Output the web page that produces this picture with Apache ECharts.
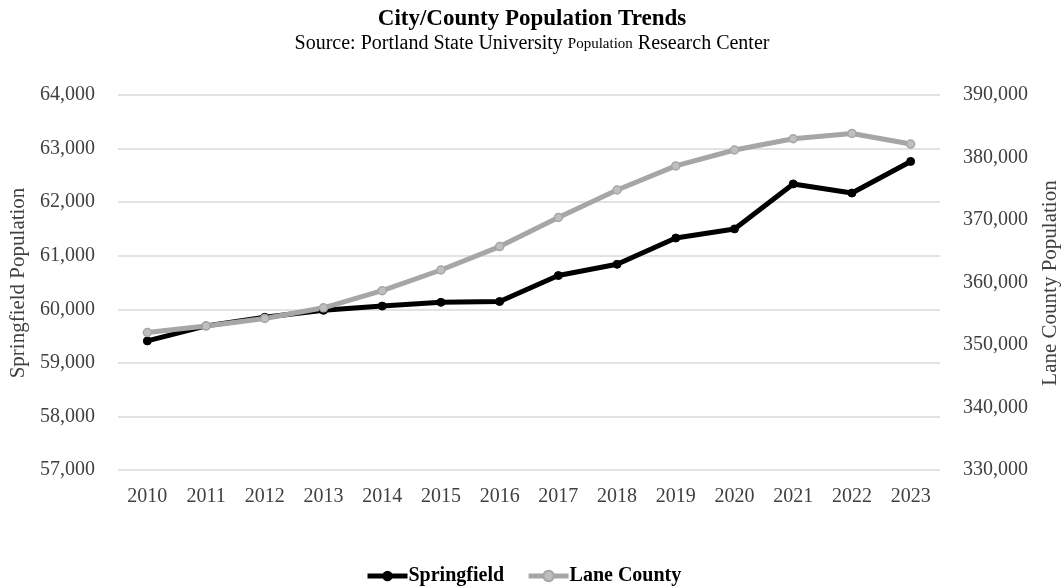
<!DOCTYPE html>
<html>
<head>
<meta charset="utf-8">
<script src="https://cdn.jsdelivr.net/npm/echarts@6/dist/echarts.min.js"></script>
<style>
  html, body { margin: 0; padding: 0; background: #fff; }
  #chart { width: 1064px; height: 588px; }
</style>
</head>
<body>
<div id="chart"></div>
<script>
// Population estimates by year
const years = ['2010','2011','2012','2013','2014','2015','2016','2017','2018','2019','2020','2021','2022','2023'];
const springfield = [59410, 59690, 59850, 59980, 60060, 60130, 60145, 60630, 60840, 61330, 61500, 62340, 62170, 62760];
const laneCounty = [352000, 353050, 354250, 355950, 358700, 362000, 365750, 370400, 374800, 378650, 381200, 383000, 383850, 382150];

const FONT = '"Liberation Serif", "Times New Roman", serif';
const TXT = '#404040';

const chart = echarts.init(document.getElementById('chart'));
const fmt = v => v.toLocaleString('en-US');

chart.setOption({
  backgroundColor: '#fff',
  animation: false,
  title: {
    text: 'City/County Population Trends',
    subtext: 'Source: Portland State University {s|Population} Research Center',
    left: 'center',
    top: 3,
    itemGap: 3,
    textStyle: { fontFamily: FONT, fontSize: 23, fontWeight: 'bold', color: '#000' },
    subtextStyle: {
      fontFamily: FONT, fontSize: 20, color: '#000',
      rich: { s: { fontFamily: FONT, fontSize: 15, color: '#000' } }
    }
  },
  legend: {
    top: 566,
    left: 365,
    padding: 0,
    itemWidth: 40,
    itemHeight: 13,
    itemGap: 22,
    lineStyle: { width: 5 },
    textStyle: { fontFamily: FONT, fontSize: 20, fontWeight: 'bold', color: '#000', padding: [0, 0, 0, -4] },
    data: ['Springfield', 'Lane County']
  },
  grid: { left: 118, right: 124, top: 95, bottom: 118 },
  xAxis: {
    type: 'category',
    data: years,
    boundaryGap: true,
    axisLine: { show: false },
    axisTick: { show: false },
    axisLabel: { fontFamily: FONT, fontSize: 20, color: TXT, margin: 17 }
  },
  yAxis: [
    {
      type: 'value', min: 57000, max: 64000, interval: 1000,
      axisLine: { show: false }, axisTick: { show: false },
      splitLine: { lineStyle: { color: '#d9d9d9', width: 1.5 } },
      axisLabel: { fontFamily: FONT, fontSize: 20, color: TXT, margin: 23, formatter: fmt }
    },
    {
      type: 'value', min: 330000, max: 390000, interval: 10000,
      axisLine: { show: false }, axisTick: { show: false },
      splitLine: { show: false },
      axisLabel: { fontFamily: FONT, fontSize: 20, color: TXT, margin: 23, formatter: fmt }
    }
  ],
  graphic: [
    {
      type: 'text', x: 18, y: 283, rotation: Math.PI / 2,
      style: { text: 'Springfield Population', fontFamily: FONT, fontSize: 21, fill: TXT, textAlign: 'center', textVerticalAlign: 'middle' }
    },
    {
      type: 'text', x: 1050, y: 283, rotation: Math.PI / 2,
      style: { text: 'Lane County Population', fontFamily: FONT, fontSize: 21, fill: TXT, textAlign: 'center', textVerticalAlign: 'middle' }
    }
  ],
  series: [
    {
      name: 'Springfield', type: 'line', yAxisIndex: 0, data: springfield,
      symbol: 'circle', symbolSize: 8,
      lineStyle: { color: '#000', width: 5 },
      itemStyle: { color: '#000', borderColor: '#000' }
    },
    {
      name: 'Lane County', type: 'line', yAxisIndex: 1, data: laneCounty,
      symbol: 'circle', symbolSize: 8,
      lineStyle: { color: '#a6a6a6', width: 5 },
      itemStyle: { color: '#bfbfbf', borderColor: '#a6a6a6', borderWidth: 1.5 }
    }
  ]
});
</script>
</body>
</html>
